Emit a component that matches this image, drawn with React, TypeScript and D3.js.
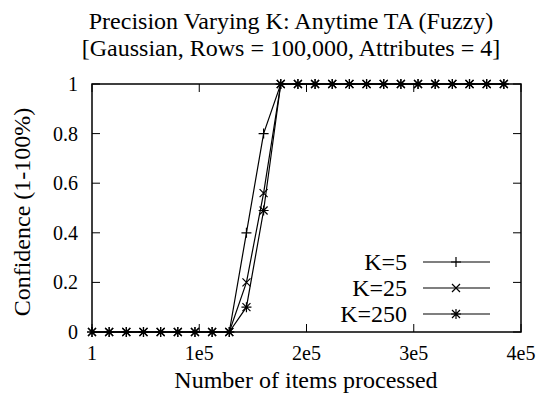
import React, { useEffect } from "react";
import * as d3 from "d3";

const xValues = [0, 16000, 32000, 48000, 64000, 80000, 96000, 112000, 128000, 144000, 160000, 176000, 192000, 208000, 224000, 240000, 256000, 272000, 288000, 304000, 320000, 336000, 352000, 368000, 384000];
const k5 = [0, 0, 0, 0, 0, 0, 0, 0, 0, 0.4, 0.8, 1, 1, 1, 1, 1, 1, 1, 1, 1, 1, 1, 1, 1, 1];
const k25 = [0, 0, 0, 0, 0, 0, 0, 0, 0, 0.2, 0.56, 1, 1, 1, 1, 1, 1, 1, 1, 1, 1, 1, 1, 1, 1];
const k250 = [0, 0, 0, 0, 0, 0, 0, 0, 0, 0.1, 0.49, 1, 1, 1, 1, 1, 1, 1, 1, 1, 1, 1, 1, 1, 1];
const seriesNames = ["K=5", "K=25", "K=250"];
const markerTypes = ["plus", "cross", "star"];
const xTicks = [0, 100000, 200000, 300000, 400000];
const xTickLabels = ["1", "1e5", "2e5", "3e5", "4e5"];
const yTicks = [0, 0.2, 0.4, 0.6, 0.8, 1];
const yTickLabels = ["0", "0.2", "0.4", "0.6", "0.8", "1"];

const W = 536, H = 401;
const M = { left: 92, right: 521, top: 84, bottom: 332 };
const FONT = "Liberation Serif";

function Marker({ type, x, y }: { type: string; x: number; y: number }) {
  const p = 5, c = 4;
  const plus = `M${x - p},${y}H${x + p}M${x},${y - p}V${y + p}`;
  const cross = `M${x - c},${y - c}L${x + c},${y + c}M${x - c},${y + c}L${x + c},${y - c}`;
  const d = type === "plus" ? plus : type === "cross" ? cross : plus + cross;
  return <path d={d} stroke="#000" strokeWidth={1.2} fill="none" />;
}

export default function App() {
  useEffect(() => {
    document.body.style.margin = "0";
  }, []);
  const x = d3.scaleLinear().domain([0, 400000]).range([M.left, M.right]);
  const y = d3.scaleLinear().domain([0, 1]).range([M.bottom, M.top]);
  const data = [k5, k25, k250];
  const line = d3.line<number>().x((_, i) => x(xValues[i])).y((v) => y(v));
  const tickLen = 8;
  const legendY = [262, 288, 314];
  return (
    <svg width={W} height={H} style={{ display: "block" }} fontFamily={FONT}>
      <style>{`text { font-family: "Liberation Serif", serif !important; }`}</style>
      <g fontFamily={FONT}>
        <text x={291} y={29} fontFamily={FONT} fontSize={24} textAnchor="middle">Precision Varying K: Anytime TA (Fuzzy)</text>
        <text x={291} y={56} fontFamily={FONT} fontSize={24} textAnchor="middle">[Gaussian, Rows = 100,000, Attributes = 4]</text>
        {yTicks.map((t, i) => (
          <text key={"yl" + i} x={78} y={y(t) + 7} fontFamily={FONT} fontSize={20} textAnchor="end">{yTickLabels[i]}</text>
        ))}
        {xTicks.map((t, i) => (
          <text key={"xl" + i} x={x(t)} y={360} fontFamily={FONT} fontSize={20} textAnchor="middle">{xTickLabels[i]}</text>
        ))}
        <text x={306} y={388} fontFamily={FONT} fontSize={24} textAnchor="middle">Number of items processed</text>
        <text transform={`translate(30,212) rotate(-90)`} fontFamily={FONT} fontSize={24} textAnchor="middle">Confidence (1-100%)</text>
        {seriesNames.map((n, i) => (
          <text key={"lt" + i} x={407} y={legendY[i] + 8} fontFamily={FONT} fontSize={24} textAnchor="end">{n}</text>
        ))}
      </g>
      {yTicks.map((t, i) => (
        <g key={"y" + i}>
          <line x1={M.left} x2={M.left + tickLen} y1={y(t)} y2={y(t)} stroke="#000" />
          <line x1={M.right} x2={M.right - tickLen} y1={y(t)} y2={y(t)} stroke="#000" />
        </g>
      ))}
      {xTicks.map((t, i) => (
        <g key={"x" + i}>
          <line x1={x(t)} x2={x(t)} y1={M.bottom} y2={M.bottom - tickLen} stroke="#000" />
          <line x1={x(t)} x2={x(t)} y1={M.top} y2={M.top + tickLen} stroke="#000" />
        </g>
      ))}
      <rect x={M.left} y={M.top} width={M.right - M.left} height={M.bottom - M.top} fill="none" stroke="#000" strokeWidth={1.5} />
      {data.map((s, si) => (
        <g key={"s" + si}>
          <path d={line(s) || ""} fill="none" stroke="#000" strokeWidth={1.2} />
          {s.map((v, i) => <Marker key={i} type={markerTypes[si]} x={x(xValues[i])} y={y(v)} />)}
        </g>
      ))}
      {seriesNames.map((n, i) => (
        <g key={"l" + i}>
          <line x1={423} x2={490} y1={legendY[i]} y2={legendY[i]} stroke="#000" strokeWidth={1.2} />
          <Marker type={markerTypes[i]} x={456} y={legendY[i]} />
        </g>
      ))}
    </svg>
  );
}
